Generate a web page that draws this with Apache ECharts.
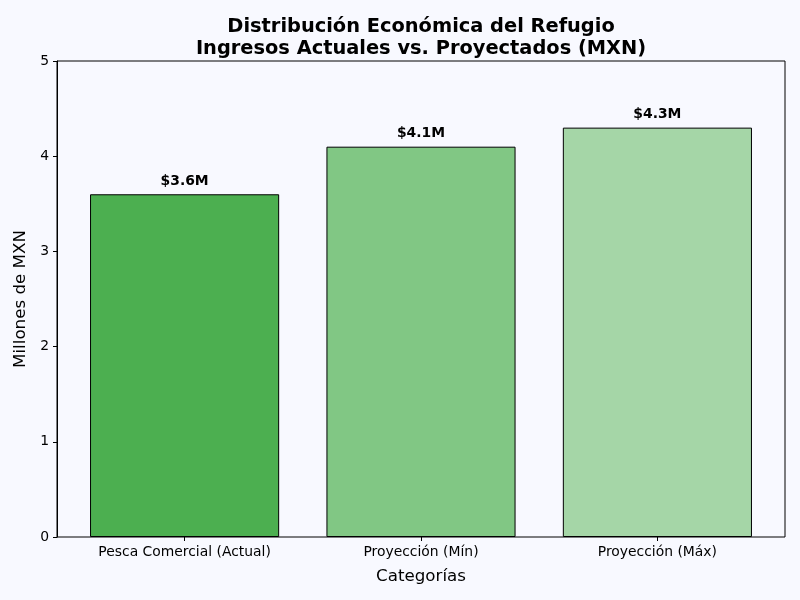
<!DOCTYPE html>
<html>
<head>
<meta charset="utf-8">
<script src="https://cdn.jsdelivr.net/npm/echarts@6/dist/echarts.min.js"></script>
<style>html,body{margin:0;padding:0;background:#F8F9FF;}#c{width:800px;height:600px;}</style>
</head>
<body>
<div id="c"></div>
<script>
const categories = ['Pesca Comercial (Actual)', 'Proyección (Mín)', 'Proyección (Máx)'];
const values = [3.6, 4.1, 4.3];
const colors = ['#4CAF50', '#81C784', '#A5D6A7'];
const yTicks = [0, 1, 2, 3, 4, 5];

const F = 'DejaVu Sans';
const chart = echarts.init(document.getElementById('c'));
chart.setOption({
  backgroundColor: '#F8F9FF',
  animation: false,
  textStyle: { fontFamily: F },
  title: {
    text: 'Distribución Económica del Refugio\nIngresos Actuales vs. Proyectados (MXN)',
    left: 416, textAlign: 'center', top: 11,
    textStyle: { fontFamily: F, fontSize: 19.4, fontWeight: 'bold', color: '#000', lineHeight: 22 }
  },
  grid: [
    { left: 57, right: 15, top: 61, bottom: 63, show: true, borderColor: '#000', borderWidth: 1, backgroundColor: 'transparent' },
    { left: 66.4, right: 24.4, top: 61, bottom: 63 }
  ],
  xAxis: [
    { gridIndex: 0, type: 'value', min: 0, max: 1, show: false },
    {
      gridIndex: 1, type: 'category', data: categories,
      axisLine: { show: false },
      axisTick: { show: true, alignWithLabel: true, length: 4, lineStyle: { color: '#000' } },
      axisLabel: { color: '#000', fontSize: 13.9, margin: 8, fontFamily: F },
      name: 'Categorías', nameLocation: 'middle', nameGap: 31,
      nameTextStyle: { fontSize: 16.7, color: '#000', fontFamily: F }
    }
  ],
  yAxis: [
    { gridIndex: 0, type: 'value', min: 0, max: 1, show: false },
    {
      gridIndex: 1, type: 'value', min: 0, max: 5, interval: 1, offset: 9.4,
      axisLine: { show: true, lineStyle: { color: '#000' } },
      axisTick: { show: true, length: 4, lineStyle: { color: '#000' } },
      splitLine: { show: false },
      axisLabel: { color: '#000', fontSize: 13.9, margin: 8, fontFamily: F, formatter: v => yTicks.includes(v) ? String(v) : '' },
      name: 'Millones de MXN', nameLocation: 'middle', nameGap: 24,
      nameTextStyle: { fontSize: 16.7, color: '#000', fontFamily: F }
    }
  ],
  series: [{
    type: 'bar', xAxisIndex: 1, yAxisIndex: 1,
    barCategoryGap: '20%',
    data: values.map((v, i) => ({ value: v, itemStyle: { color: colors[i] } })),
    itemStyle: { borderColor: '#000', borderWidth: 1 },
    label: {
      show: true, position: 'top', distance: 6,
      formatter: p => '$' + p.value.toFixed(1) + 'M',
      fontFamily: F, fontSize: 13.9, fontWeight: 'bold', color: '#000'
    }
  }]
});
</script>
</body>
</html>
